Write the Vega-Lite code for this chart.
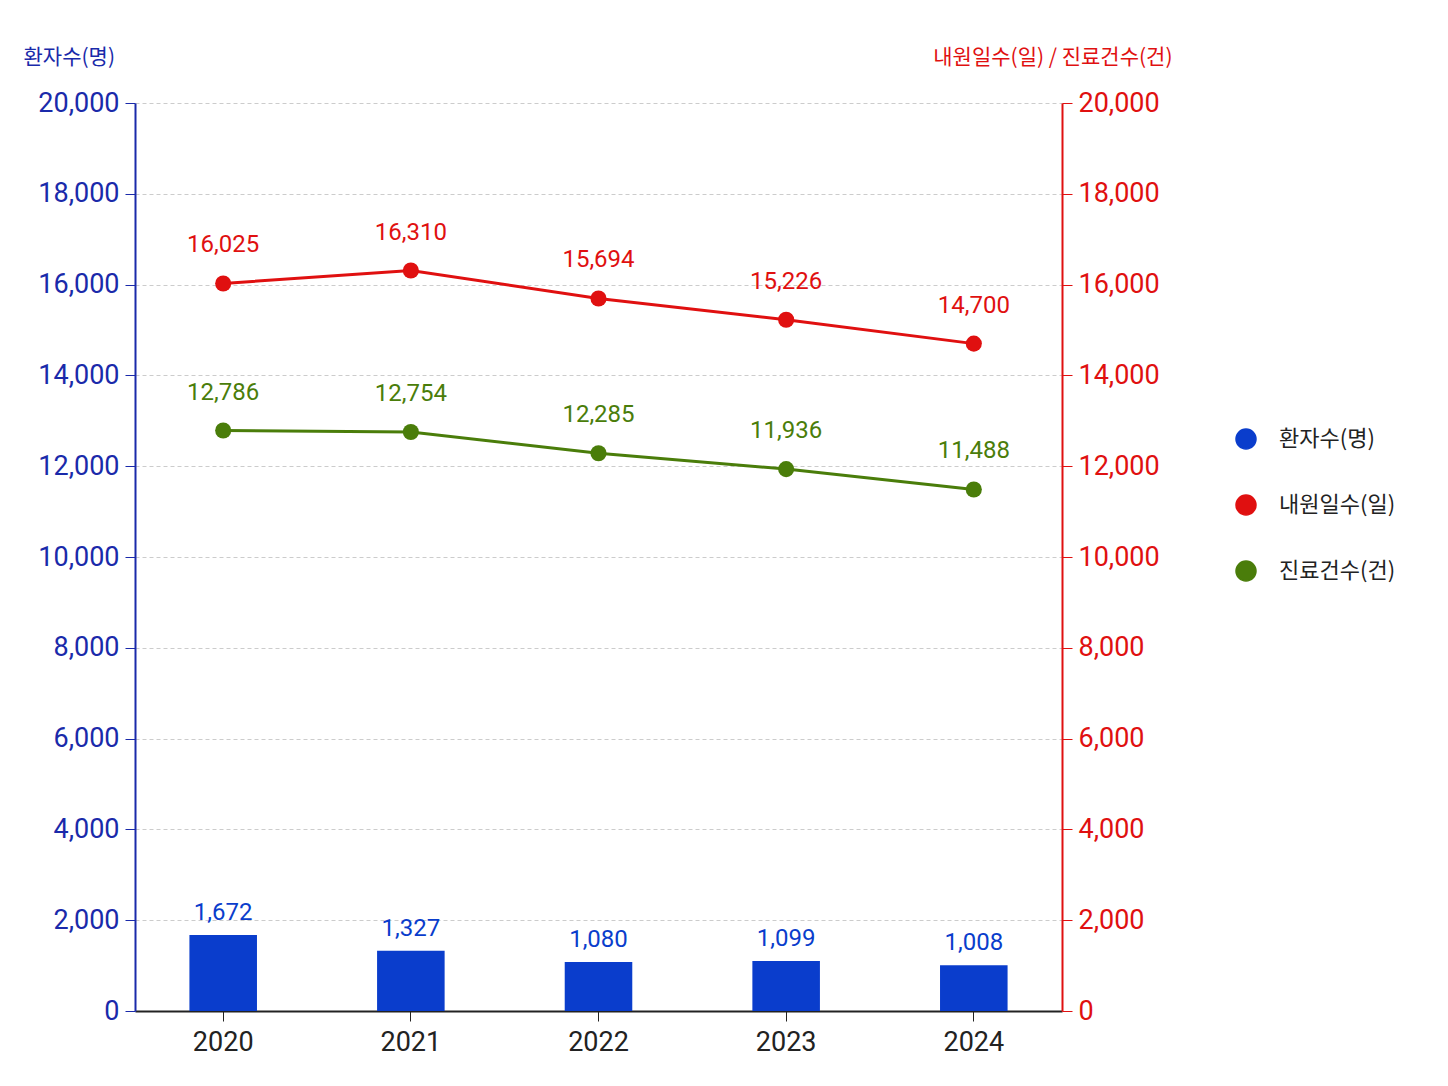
{
  "$schema": "https://vega.github.io/schema/vega-lite/v6.json",
  "width": 927,
  "height": 908,
  "autosize": {"type": "none"},
  "padding": {"left": 135, "top": 103, "right": 386, "bottom": 75},
  "config": {
    "view": {"stroke": null},
    "font": "Roboto",
    "axis": {"labelFont": "Roboto", "titleFont": "Noto Sans CJK KR", "labelFontSize": 27, "tickSize": 10}
  },
  "data": {
    "values": [
      {"year": "2020", "series": "환자수(명)", "value": 1672},
      {"year": "2021", "series": "환자수(명)", "value": 1327},
      {"year": "2022", "series": "환자수(명)", "value": 1080},
      {"year": "2023", "series": "환자수(명)", "value": 1099},
      {"year": "2024", "series": "환자수(명)", "value": 1008},
      {"year": "2020", "series": "내원일수(일)", "value": 16025},
      {"year": "2021", "series": "내원일수(일)", "value": 16310},
      {"year": "2022", "series": "내원일수(일)", "value": 15694},
      {"year": "2023", "series": "내원일수(일)", "value": 15226},
      {"year": "2024", "series": "내원일수(일)", "value": 14700},
      {"year": "2020", "series": "진료건수(건)", "value": 12786},
      {"year": "2021", "series": "진료건수(건)", "value": 12754},
      {"year": "2022", "series": "진료건수(건)", "value": 12285},
      {"year": "2023", "series": "진료건수(건)", "value": 11936},
      {"year": "2024", "series": "진료건수(건)", "value": 11488}
    ]
  },
  "encoding": {
    "x": {
      "field": "year", "type": "nominal", "title": null,
      "scale": {"paddingInner": 0.64, "paddingOuter": 0.29},
      "axis": {"labelAngle": 0, "labelColor": "#222", "domainColor": "#222", "tickColor": "#222", "labelPadding": 8, "domainWidth": 2}
    },
    "color": {
      "field": "series", "type": "nominal",
      "scale": {"domain": ["환자수(명)", "내원일수(일)", "진료건수(건)"], "range": ["#0a3dcc", "#e01010", "#4a7d0a"]},
      "legend": {
        "title": null, "orient": "none", "legendX": 1100, "legendY": 325,
        "labelFont": "Noto Sans CJK KR", "labelFontSize": 22, "labelColor": "#222",
        "symbolSize": 400, "rowPadding": 40, "labelOffset": 22
      }
    }
  },
  "layer": [
    {
      "transform": [{"filter": "datum.series === '환자수(명)'"}],
      "layer": [
        {"mark": {"type": "bar", "color": "#0a3dcc"}},
        {"mark": {"type": "text", "dy": -10, "baseline": "bottom", "fontSize": 24, "color": "#0a3dcc"},
         "encoding": {"text": {"field": "value", "format": ",d"}, "color": {"value": "#0a3dcc"}}}
      ],
      "encoding": {
        "y": {
          "field": "value", "type": "quantitative", "title": "환자수(명)",
          "scale": {"domain": [0, 20000]},
          "axis": {
            "orient": "left", "tickCount": 10, "format": ",d", "labelColor": "#1a2aaa", "domainColor": "#1a2aaa", "tickColor": "#1a2aaa", "domainWidth": 2,
            "grid": true, "gridDash": [4, 3], "gridColor": "#cccccc",
            "titleAngle": 0, "titleColor": "#1a2aaa", "titleFontSize": 21, "titleFontWeight": "normal",
            "titleX": -112, "titleY": -36, "titleAlign": "left", "labelPadding": 6
          }
        }
      }
    },
    {
      "transform": [{"filter": "datum.series !== '환자수(명)'"}],
      "layer": [
        {"mark": {"type": "line", "strokeWidth": 3, "point": {"size": 260, "filled": true}}},
        {"mark": {"type": "text", "dy": -38, "fontSize": 24},
         "encoding": {"text": {"field": "value", "format": ",d"}}}
      ],
      "encoding": {
        "y": {
          "field": "value", "type": "quantitative", "title": "내원일수(일) / 진료건수(건)",
          "scale": {"domain": [0, 20000]},
          "axis": {
            "orient": "right", "tickCount": 10, "format": ",d", "labelColor": "#e01010", "domainColor": "#e01010", "tickColor": "#e01010", "domainWidth": 2,
            "grid": false,
            "titleAngle": 0, "titleColor": "#e01010", "titleFontSize": 21, "titleFontWeight": "normal",
            "titleX": 110, "titleY": -36, "titleAlign": "right", "labelPadding": 6
          }
        }
      }
    }
  ],
  "resolve": {"scale": {"y": "independent"}}
}
